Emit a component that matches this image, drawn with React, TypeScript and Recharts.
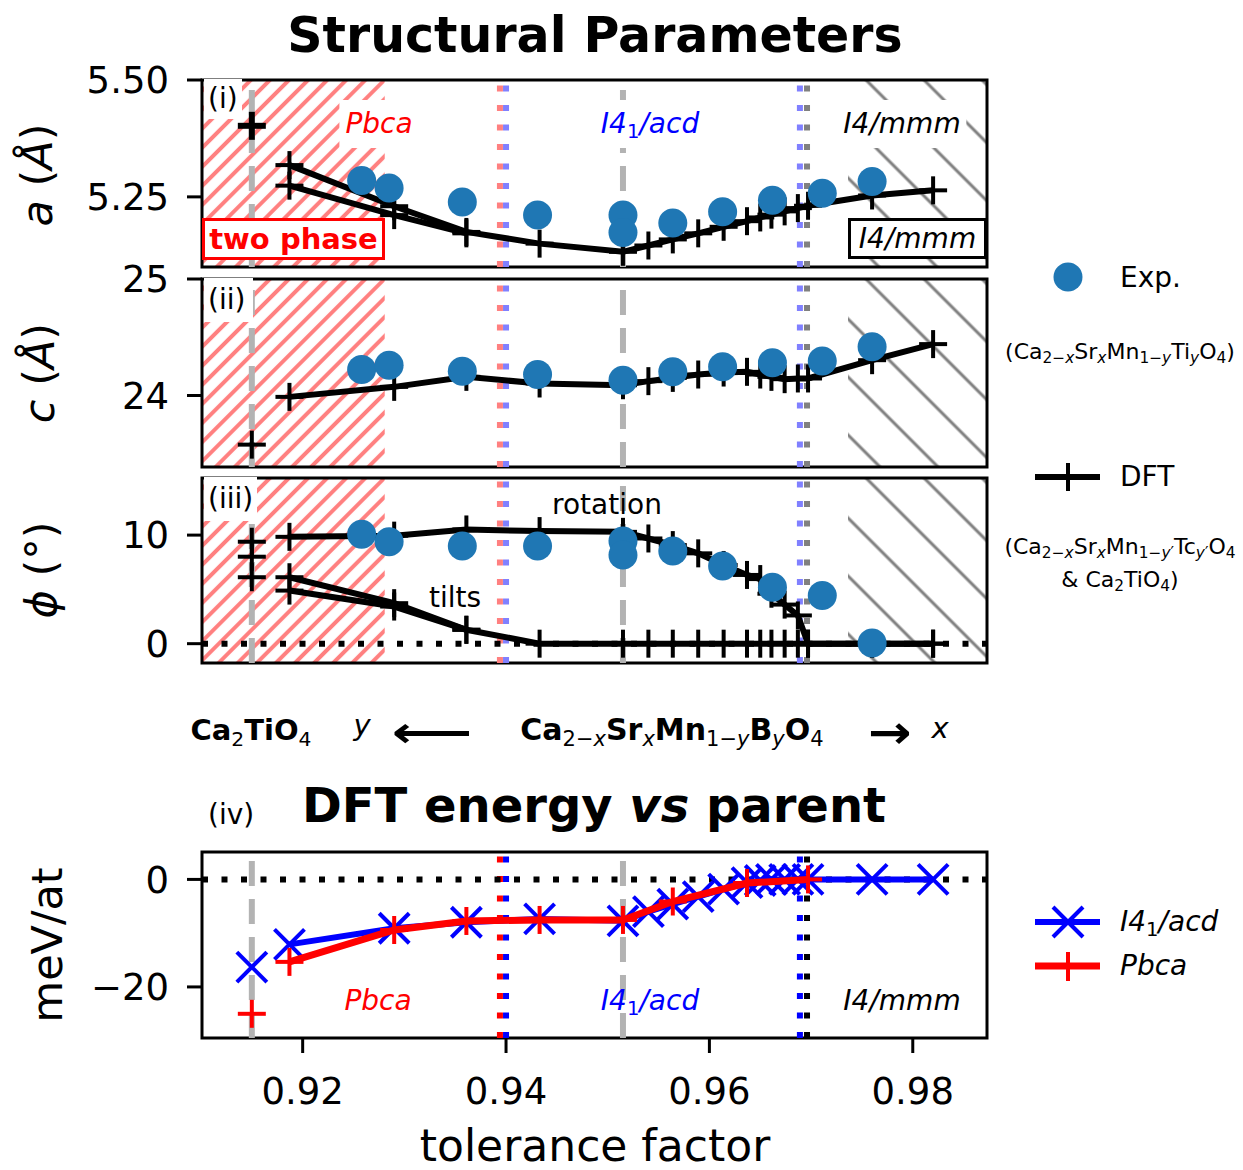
import React from "react";
import { ComposedChart, Scatter, XAxis, YAxis, ReferenceLine, ReferenceArea } from "recharts";

const FONT = "DejaVu Sans, Verdana, sans-serif";
const W = 1243;
const H = 1170;
const PLOT_LEFT = 202;
const PLOT_RIGHT = 987;
const X_MIN = 0.9101;
const X_MAX = 0.9873;
const xTicks = [0.92, 0.94, 0.96, 0.98];

// tolerance factors
const tCa2TiO4 = 0.915;
const tDft = [0.9187, 0.929, 0.9361, 0.9433, 0.9515, 0.954, 0.9564, 0.9589, 0.9614, 0.9637, 0.965, 0.9661, 0.9674, 0.9687, 0.9697, 0.976, 0.982];
const tDftOrtho = [0.9187, 0.929, 0.9361];
const tExp = [0.9258, 0.9285, 0.9357, 0.9431, 0.9515, 0.9515, 0.9564, 0.9613, 0.9662, 0.9711, 0.976];
const tExpC = [0.9258, 0.9285, 0.9357, 0.9431, 0.9515, 0.9564, 0.9613, 0.9662, 0.9711, 0.976];
const tPbca = [0.9187, 0.929, 0.9361, 0.9433, 0.9515, 0.9564, 0.9637, 0.9697];

// phase boundaries / regions
const tTwoPhaseEnd = 0.92807;
const tPbcaEdge = 0.9394;
const tI41Edge = 0.94;
const tI41Upper = 0.9689;
const tI4mmm = 0.9696;
const tI4mmmHatch = 0.97363;

// (i) a
const aDft = [5.318, 5.23, 5.175, 5.15, 5.1325, 5.146, 5.159, 5.172, 5.186, 5.198, 5.206, 5.212, 5.219, 5.226, 5.231, 5.253, 5.264];
const bDft = [5.274, 5.211, 5.172];
const aCa2TiO4 = [5.402];
const aExp = [5.285, 5.269, 5.239, 5.211, 5.211, 5.174, 5.194, 5.218, 5.243, 5.258, 5.283];

// (ii) c
const cDft = [23.988, 24.074, 24.16, 24.103, 24.088, 24.123, 24.151, 24.18, 24.197, 24.203, 24.18, 24.16, 24.14, 24.146, 24.146, 24.303, 24.441];
const cCa2TiO4 = [23.578];
const cExp = [24.223, 24.26, 24.209, 24.18, 24.131, 24.203, 24.246, 24.28, 24.295, 24.418];

// (iii) phi
const phiRot = [9.84, 9.95, 10.52, 10.37, 10.3, 9.69, 9.08, 8.32, 7.25, 6.33, 5.95, 4.6, 3.6, 2.6, 0, 0, 0];
const phiTilt = [6.12, 3.73, 1.28, 0, 0, 0, 0, 0, 0, 0, 0, 0, 0, 0, 0, 0, 0];
const phiTilt2 = [4.89, 3.42, 1.28];
const phiCa2TiO4 = [9.39, 8.01, 6.12];
const phiExp = [10.09, 9.39, 8.99, 8.99, 9.45, 8.17, 8.53, 7.16, 5.2, 4.43, 0.06];

// (iv) energy
const eI41 = [-12.09, -9.09, -7.97, -7.35, -7.7, -6.0, -4.6, -3.2, -1.8, -0.6, -0.2, 0, 0, 0, 0, 0, 0];
const ePbca = [-15.34, -9.41, -7.73, -7.54, -7.54, -4.11, -0.67, 0];
const eCa2TiO4I41 = [-16.3];
const eCa2TiO4Pbca = [-25.0];

const zip = (xs: number[], ys: number[]) => ys.map((y, i) => ({ x: xs[i], y }));
const same = (x: number, ys: number[]) => ys.map((y) => ({ x, y }));

const BLUE = "#1f77b4";

const plus = (color: string, half = 14, sw = 4) => (p: any) => (
  <g>
    <line x1={p.cx - half} y1={p.cy} x2={p.cx + half} y2={p.cy} stroke={color} strokeWidth={sw} />
    <line x1={p.cx} y1={p.cy - half} x2={p.cx} y2={p.cy + half} stroke={color} strokeWidth={sw} />
  </g>
);
const cross = (color: string, half = 15, sw = 4) => (p: any) => (
  <g>
    <line x1={p.cx - half} y1={p.cy - half} x2={p.cx + half} y2={p.cy + half} stroke={color} strokeWidth={sw} />
    <line x1={p.cx - half} y1={p.cy + half} x2={p.cx + half} y2={p.cy - half} stroke={color} strokeWidth={sw} />
  </g>
);
const dot = (p: any) => <circle cx={p.cx} cy={p.cy} r={14.5} fill={BLUE} />;

const minus = (v: number) => (v < 0 ? "\u2212" + Math.abs(v) : String(v));

type PanelProps = {
  top: number;
  plotH: number;
  yDomain: [number, number];
  yTicks: number[];
  fmt: (v: number) => string;
  showX?: boolean;
  children?: React.ReactNode;
};

function Panel({ top, plotH, yDomain, yTicks, fmt, showX, children }: PanelProps) {
  const mTop = 26;
  const xH = showX ? 80 : 20;
  const h = mTop + plotH + xH + 2;
  return (
    <div style={{ position: "absolute", left: 0, top: top - mTop }}>
      <ComposedChart width={W} height={h} margin={{ top: mTop, right: W - PLOT_RIGHT, bottom: 2, left: 0 }}>
        <XAxis
          type="number"
          dataKey="x"
          domain={[X_MIN, X_MAX]}
          allowDataOverflow
          ticks={xTicks}
          interval={0}
          height={xH}
          tickSize={15}
          tickMargin={25}
          axisLine={false}
          tickLine={{ stroke: "#000", strokeWidth: 3 }}
          tick={showX ? { fontSize: 37, fill: "#000", fontFamily: FONT } : false}
          tickFormatter={(v: number) => v.toFixed(2)}
        />
        <YAxis
          type="number"
          dataKey="y"
          domain={yDomain}
          allowDataOverflow
          ticks={yTicks}
          interval={0}
          width={PLOT_LEFT}
          tickSize={15}
          tickMargin={18}
          axisLine={false}
          tickLine={{ stroke: "#000", strokeWidth: 3 }}
          tick={{ fontSize: 37, fill: "#000", fontFamily: FONT }}
          tickFormatter={fmt}
        />
        {children}
        <ReferenceArea x1={X_MIN} x2={X_MAX} y1={yDomain[0]} y2={yDomain[1]} fill="none" fillOpacity={0} stroke="#000" strokeWidth={3} />
      </ComposedChart>
    </div>
  );
}

// background hatches and phase lines shared by the three structure panels
const structBackground = (yDomain: [number, number]) => [
  <ReferenceArea key="h1" x1={X_MIN} x2={tTwoPhaseEnd} y1={yDomain[0]} y2={yDomain[1]} fill="url(#hatchRed)" fillOpacity={1} stroke="none" />,
  <ReferenceArea key="h2" x1={tI4mmmHatch} x2={X_MAX} y1={yDomain[0]} y2={yDomain[1]} fill="url(#hatchGray)" fillOpacity={1} stroke="none" />,
  <ReferenceLine key="v1" x={tCa2TiO4} stroke="#b3b3b3" strokeWidth={6} strokeDasharray="25 13" />,
  <ReferenceLine key="v2" x={0.9515} stroke="#b3b3b3" strokeWidth={6} strokeDasharray="25 13" />,
  <ReferenceLine key="v3" x={tPbcaEdge} stroke="#ff8080" strokeWidth={6} strokeDasharray="6 13.5" />,
  <ReferenceLine key="v4" x={tI41Edge} stroke="#8080ff" strokeWidth={6} strokeDasharray="6 13.5" />,
  <ReferenceLine key="v5" x={tI41Upper} stroke="#8080ff" strokeWidth={6} strokeDasharray="6 13.5" />,
  <ReferenceLine key="v6" x={tI4mmm} stroke="#808080" strokeWidth={6} strokeDasharray="6 13.5" />,
];

const Sub = ({ children }: { children: React.ReactNode }) => (
  <span style={{ fontSize: "0.7em", position: "relative", top: "0.28em", fontWeight: 400 }}>{children}</span>
);

type TxtProps = {
  x: number;
  y: number;
  size?: number;
  anchor?: "start" | "middle" | "end";
  rotate?: boolean;
  style?: React.CSSProperties;
  children: React.ReactNode;
};

const Txt = ({ x, y, size = 28, anchor = "middle", rotate, style, children }: TxtProps) => {
  const tx = anchor === "middle" ? "-50%" : anchor === "end" ? "-100%" : "0";
  return (
    <div
      style={{
        position: "absolute",
        left: x,
        top: y,
        transform: `translate(${tx}, -50%)${rotate ? " rotate(-90deg)" : ""}`,
        fontSize: size,
        fontFamily: FONT,
        whiteSpace: "nowrap",
        lineHeight: 1,
        color: "#000",
        ...style,
      }}
    >
      {children}
    </div>
  );
};

const I41 = () => (
  <>
    <i>I</i>
    <i>4</i>
    <Sub>1</Sub>
    <i>/acd</i>
  </>
);

export default function App() {
  const dA: [number, number] = [5.1, 5.5];
  const dC: [number, number] = [23.386, 25];
  const dP: [number, number] = [-1.78, 15.26];
  const dE: [number, number] = [-29.5, 5.1];
  const whiteBox: React.CSSProperties = { background: "#fff", padding: "10px 6px" };

  return (
    <div style={{ position: "absolute", left: 0, top: 0, width: W, height: H, background: "#fff", fontFamily: FONT, overflow: "hidden" }}>
      <svg width={0} height={0} style={{ position: "absolute" }}>
        <defs>
          <pattern id="hatchRed" patternUnits="userSpaceOnUse" width={13.5} height={13.5} patternTransform="rotate(45)">
            <line x1={6.75} y1={-1} x2={6.75} y2={14.5} stroke="#ff8080" strokeWidth={4} />
          </pattern>
          <pattern id="hatchGray" patternUnits="userSpaceOnUse" width={41} height={41} patternTransform="rotate(-45)">
            <line x1={20} y1={-1} x2={20} y2={42} stroke="#808080" strokeWidth={3} />
          </pattern>
        </defs>
      </svg>

      {/* (i) a */}
      <Panel top={80} plotH={187} yDomain={dA} yTicks={[5.25, 5.5]} fmt={(v) => v.toFixed(2)}>
        {structBackground(dA)}
        <Scatter data={zip(tDft, aDft)} line={{ stroke: "#000", strokeWidth: 6 }} shape={plus("#000")} isAnimationActive={false} />
        <Scatter data={zip(tDftOrtho, bDft)} line={{ stroke: "#000", strokeWidth: 6 }} shape={plus("#000")} isAnimationActive={false} />
        <Scatter data={same(tCa2TiO4, aCa2TiO4)} shape={plus("#000", 14, 6)} isAnimationActive={false} />
        <Scatter data={zip(tExp, aExp)} shape={dot} isAnimationActive={false} />
      </Panel>

      {/* (ii) c */}
      <Panel top={279} plotH={188} yDomain={dC} yTicks={[24, 25]} fmt={(v) => String(v)}>
        {structBackground(dC)}
        <Scatter data={zip(tDft, cDft)} line={{ stroke: "#000", strokeWidth: 6 }} shape={plus("#000")} isAnimationActive={false} />
        <Scatter data={same(tCa2TiO4, cCa2TiO4)} shape={plus("#000")} isAnimationActive={false} />
        <Scatter data={zip(tExpC, cExp)} shape={dot} isAnimationActive={false} />
      </Panel>

      {/* (iii) phi */}
      <Panel top={478} plotH={185} yDomain={dP} yTicks={[0, 10]} fmt={(v) => String(v)}>
        {structBackground(dP)}
        <ReferenceLine y={0} stroke="#000" strokeWidth={6} strokeDasharray="6 13.5" />
        <Scatter data={zip(tDft, phiTilt)} line={{ stroke: "#000", strokeWidth: 6 }} shape={plus("#000")} isAnimationActive={false} />
        <Scatter data={zip(tDftOrtho, phiTilt2)} line={{ stroke: "#000", strokeWidth: 6 }} shape={plus("#000")} isAnimationActive={false} />
        <Scatter data={zip(tDft, phiRot)} line={{ stroke: "#000", strokeWidth: 6 }} shape={plus("#000")} isAnimationActive={false} />
        <Scatter data={same(tCa2TiO4, phiCa2TiO4)} shape={plus("#000")} isAnimationActive={false} />
        <Scatter data={zip(tExp, phiExp)} shape={dot} isAnimationActive={false} />
      </Panel>

      {/* (iv) energy */}
      <Panel top={852} plotH={186} yDomain={dE} yTicks={[-20, 0]} fmt={minus} showX>
        <ReferenceLine x={tCa2TiO4} stroke="#b3b3b3" strokeWidth={6} strokeDasharray="25 13" />
        <ReferenceLine x={0.9515} stroke="#b3b3b3" strokeWidth={6} strokeDasharray="25 13" />
        <ReferenceLine x={tPbcaEdge} stroke="#ff0000" strokeWidth={6} strokeDasharray="6 13.5" />
        <ReferenceLine x={tI41Edge} stroke="#0000ff" strokeWidth={6} strokeDasharray="6 13.5" />
        <ReferenceLine x={tI41Upper} stroke="#0000ff" strokeWidth={6} strokeDasharray="6 13.5" />
        <ReferenceLine x={tI4mmm} stroke="#000" strokeWidth={6} strokeDasharray="6 13.5" />
        <ReferenceLine y={0} stroke="#000" strokeWidth={6} strokeDasharray="6 13.5" />
        <Scatter data={zip(tDft, eI41)} line={{ stroke: "#0000ff", strokeWidth: 6 }} shape={cross("#0000ff")} isAnimationActive={false} />
        <Scatter data={zip(tPbca, ePbca)} line={{ stroke: "#ff0000", strokeWidth: 7 }} shape={plus("#ff0000")} isAnimationActive={false} />
        <Scatter data={same(tCa2TiO4, eCa2TiO4I41)} shape={cross("#0000ff")} isAnimationActive={false} />
        <Scatter data={same(tCa2TiO4, eCa2TiO4Pbca)} shape={plus("#ff0000")} isAnimationActive={false} />
      </Panel>

      {/* titles and axis labels */}
      <Txt x={595} y={35} size={49} style={{ fontWeight: 700 }}>Structural Parameters</Txt>
      <Txt x={594} y={805} size={48} style={{ fontWeight: 700 }}>
        DFT energy <i>vs</i> parent
      </Txt>
      <Txt x={37} y={175} size={43} rotate>
        <i>a</i> (<i>Å</i>)
      </Txt>
      <Txt x={39} y={373} size={43} rotate>
        <i>c</i> (<i>Å</i>)
      </Txt>
      <Txt x={41} y={570} size={43} rotate>
        <i>ϕ</i> (°)
      </Txt>
      <Txt x={47} y={945} size={43} rotate>meV/at</Txt>
      <Txt x={595} y={1146} size={44}>tolerance factor</Txt>

      {/* panel tags */}
      <Txt x={204} y={99} anchor="start" style={{ background: "#fff", padding: "6px 4px" }}>(i)</Txt>
      <Txt x={204} y={300} anchor="start" style={{ background: "#fff", padding: "8px 8px 8px 4px" }}>(ii)</Txt>
      <Txt x={204} y={499} anchor="start" style={{ background: "#fff", padding: "8px 4px" }}>(iii)</Txt>
      <Txt x={208} y={815} anchor="start">(iv)</Txt>

      {/* phase labels, panel (i) */}
      <Txt x={379} y={124} style={{ ...whiteBox, color: "#ff0000", fontStyle: "italic" }}>Pbca</Txt>
      <Txt x={650} y={124} style={{ ...whiteBox, color: "#0000ff" }}>
        <I41 />
      </Txt>
      <Txt x={902} y={124} style={{ ...whiteBox, fontStyle: "italic" }}>I4/mmm</Txt>
      <div
        style={{
          position: "absolute",
          left: 202,
          top: 218,
          width: 183,
          height: 42,
          boxSizing: "border-box",
          border: "3px solid #ff0000",
          background: "#fff",
          color: "#ff0000",
          fontWeight: 700,
          fontSize: 29,
          fontFamily: FONT,
          display: "flex",
          alignItems: "center",
          justifyContent: "center",
          lineHeight: 1,
        }}
      >
        two phase
      </div>
      <div
        style={{
          position: "absolute",
          left: 848,
          top: 218,
          width: 139,
          height: 41,
          boxSizing: "border-box",
          border: "3px solid #000",
          background: "#fff",
          fontStyle: "italic",
          fontSize: 28,
          fontFamily: FONT,
          display: "flex",
          alignItems: "center",
          justifyContent: "center",
          lineHeight: 1,
        }}
      >
        I4/mmm
      </div>

      {/* panel (iii) */}
      <Txt x={607} y={505}>rotation</Txt>
      <Txt x={455} y={598}>tilts</Txt>

      {/* panel (iv) */}
      <Txt x={378} y={1001} style={{ color: "#ff0000", fontStyle: "italic" }}>Pbca</Txt>
      <Txt x={650} y={1001} style={{ color: "#0000ff" }}>
        <I41 />
      </Txt>
      <Txt x={902} y={1001} style={{ fontStyle: "italic" }}>I4/mmm</Txt>

      {/* composition row */}
      <Txt x={251} y={730} size={29} style={{ fontWeight: 700 }}>
        Ca<Sub>2</Sub>TiO<Sub>4</Sub>
      </Txt>
      <Txt x={362} y={725} size={29} style={{ fontStyle: "italic" }}>y</Txt>
      <Txt x={432} y={732} size={34} style={{ fontWeight: 700, transform: "translate(-50%, -50%) scale(1.65, 1.25)" }}>⟵</Txt>
      <Txt x={672} y={730} size={30} style={{ fontWeight: 700 }}>
        Ca<Sub>2−<i>x</i></Sub>Sr<Sub><i>x</i></Sub>Mn<Sub>1−<i>y</i></Sub>B<Sub><i>y</i></Sub>O<Sub>4</Sub>
      </Txt>
      <Txt x={890} y={732} size={40} style={{ fontWeight: 700, transform: "translate(-50%, -50%) scale(1.3, 1.15)" }}>→</Txt>
      <Txt x={940} y={728} size={29} style={{ fontStyle: "italic" }}>x</Txt>

      {/* legends */}
      <svg width={W} height={H} style={{ position: "absolute", left: 0, top: 0, pointerEvents: "none" }}>
        <circle cx={1068} cy={277} r={14.5} fill={BLUE} />
        <line x1={1035} y1={477} x2={1100} y2={477} stroke="#000" strokeWidth={6} />
        <line x1={1068} y1={463} x2={1068} y2={491} stroke="#000" strokeWidth={4} />
        <line x1={1035} y1={922} x2={1100} y2={922} stroke="#0000ff" strokeWidth={6} />
        <line x1={1053} y1={907} x2={1083} y2={937} stroke="#0000ff" strokeWidth={4} />
        <line x1={1053} y1={937} x2={1083} y2={907} stroke="#0000ff" strokeWidth={4} />
        <line x1={1035} y1={966} x2={1100} y2={966} stroke="#ff0000" strokeWidth={7} />
        <line x1={1068} y1={952} x2={1068} y2={981} stroke="#ff0000" strokeWidth={4} />
      </svg>
      <Txt x={1120} y={278} anchor="start">Exp.</Txt>
      <Txt x={1120} y={352} size={22}>
        (Ca<Sub>2−<i>x</i></Sub>Sr<Sub><i>x</i></Sub>Mn<Sub>1−<i>y</i></Sub>Ti<Sub><i>y</i></Sub>O<Sub>4</Sub>)
      </Txt>
      <Txt x={1120} y={477} anchor="start">DFT</Txt>
      <Txt x={1120} y={547} size={22}>
        (Ca<Sub>2−<i>x</i></Sub>Sr<Sub><i>x</i></Sub>Mn<Sub>1−<i>y</i>′</Sub>Tc<Sub><i>y</i>′</Sub>O<Sub>4</Sub>
      </Txt>
      <Txt x={1120} y={580} size={22}>
        &amp; Ca<Sub>2</Sub>TiO<Sub>4</Sub>)
      </Txt>
      <Txt x={1120} y={922} anchor="start">
        <I41 />
      </Txt>
      <Txt x={1120} y={966} anchor="start" style={{ fontStyle: "italic" }}>Pbca</Txt>
    </div>
  );
}
